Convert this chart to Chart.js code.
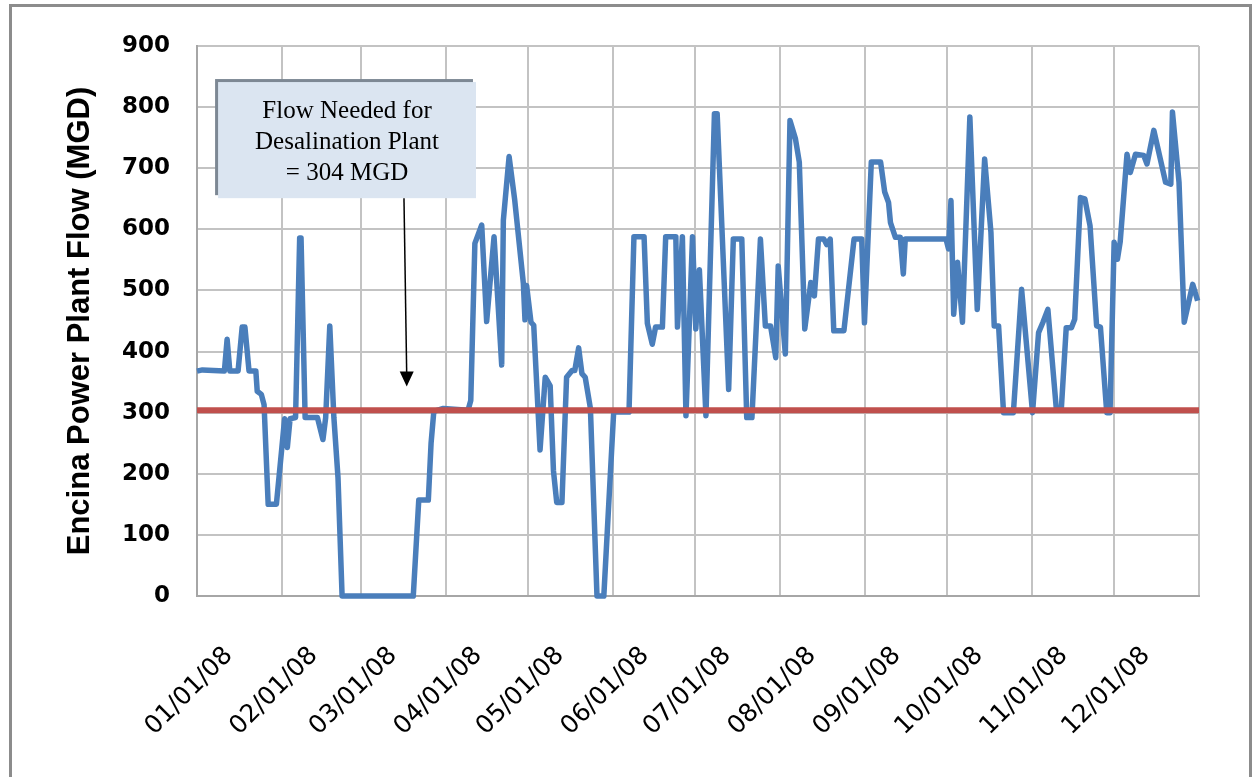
<!DOCTYPE html>
<html>
<head>
<meta charset="utf-8">
<script src="https://cdn.jsdelivr.net/npm/chart.js@4.4.1/dist/chart.umd.min.js"></script>
<style>
  html, body { margin: 0; padding: 0; background: #fff; overflow: hidden; }
  #wrap { position: relative; width: 1259px; height: 777px; }
  #frame { position: absolute; left: 9px; top: 4px; width: 1243px; height: 800px;
           border: 3px solid #8c8c8c; box-sizing: border-box; }
  canvas { position: absolute; left: 0; top: 0; }
</style>
</head>
<body>
<div id="wrap">
  <div id="frame"></div>
  <canvas id="flowChart" width="1259" height="777"></canvas>
</div>
<script>
// day of year (0 = 01/01/08) and flow in MGD
const days = [
  0, 2, 10, 11, 12, 15, 16.5, 17.5, 19, 21.5, 22, 23.5, 24.5, 26, 29, 31, 32, 33, 34, 36,
  37.5, 38, 39.5, 44, 46, 47, 48.5, 50, 51.5, 53, 79, 81, 84.5, 85.5, 86.5, 90, 99, 100,
  101.5, 104, 105.8, 108.5, 111.3, 111.9, 114, 116, 119.2, 119.8, 120.4, 122, 123, 125.3,
  127.2, 129, 130.2, 131.4, 133.3, 135, 137, 138, 139.4, 140.6, 141.8, 143.7, 146.1, 148.6,
  152.2, 157.8, 159.6, 163.3, 164.5, 166.3, 167.5, 170, 171.2, 174.9, 175.5, 177.3, 178.6,
  181, 182.2, 183.5, 185.9, 189, 190, 194.2, 195.9, 199, 200.8, 202.7, 205.8, 207.6, 209.5,
  211.4, 212.3, 214.9, 216.6, 218.6, 220, 222, 224.2, 225.5, 227, 229, 230, 231.3, 232.6,
  236.3, 240, 242.8, 243.8, 246.3, 249.7, 251.2, 252.6, 253.3, 255.1, 256.9, 258, 258.7,
  273.6, 274.5, 275.4, 276.4, 277.8, 279.6, 282.3, 285, 287.7, 290, 291.2, 292.8, 294.6,
  298.2, 301.2, 305.2, 307.4, 309, 310.8, 313.9, 315.7, 317.5, 319.4, 320.6, 322.7, 324.3,
  326.2, 328.6, 330, 332.3, 333.5, 335, 336.2, 337.2, 339.7, 340.9, 342.8, 345.8, 347,
  349.5, 353.8, 355.7, 356.3, 358.7, 360.6, 363.7, 365.5
];
const flow = [
  368, 370, 368, 420, 368, 368, 440, 440, 368, 368, 335, 330, 313, 150, 150, 243, 290, 243, 290, 292,
  586, 586, 292, 292, 256, 292, 442, 292, 194, 0, 0, 157, 157, 250, 302, 307, 304, 320,
  577, 607, 449, 588, 378, 615, 719, 650, 512, 452, 508, 448, 443, 239,
  358, 344, 205, 153, 153, 358, 369, 369, 406, 364, 358, 307, 0, 0,
  301, 301, 588, 588, 446, 412, 440, 440, 588, 588, 440, 588, 295,
  588, 437, 534, 295, 789, 789, 338, 584, 584, 292, 292, 584, 442, 442,
  390, 540, 396, 778, 748, 710, 437, 513, 491, 584, 584, 575, 584, 434,
  434, 584, 584, 447, 710, 710, 661, 644, 611, 587, 587, 527, 584,
  584, 568, 647, 461, 546, 448, 784, 469, 715, 595, 442, 442, 300,
  300, 502, 300, 431, 448, 469, 305, 305, 439, 439, 453, 652, 650,
  606, 442, 440, 300, 300, 579, 551, 579, 723, 693, 723, 721, 707,
  762, 677, 674, 792, 677, 448, 510, 483
];
const threshold = 304;
const monthStarts = [0, 31, 60, 91, 121, 152, 182, 213, 244, 274, 305, 335, 366];
const monthLabels = ['01/01/08', '02/01/08', '03/01/08', '04/01/08', '05/01/08', '06/01/08',
  '07/01/08', '08/01/08', '09/01/08', '10/01/08', '11/01/08', '12/01/08', ''];
const noteLines = ['Flow Needed for', 'Desalination Plant', '= 304 MGD'];

// callout box + arrow, placed in data units
const callout = {
  id: 'callout',
  afterDatasetsDraw(chart) {
    const { ctx, scales: { x, y } } = chart;
    const l = x.getPixelForValue(7.7), r = x.getPixelForValue(101.9);
    const t = y.getPixelForValue(841), b = y.getPixelForValue(651);
    ctx.save();
    ctx.fillStyle = '#7d8894';
    ctx.fillRect(l - 3, t - 3, r - l, b - t);
    ctx.fillStyle = '#dbe5f1';
    ctx.fillRect(l, t, r - l, b - t);
    ctx.fillStyle = '#000';
    ctx.font = '25px "Liberation Serif", serif';
    ctx.textAlign = 'center';
    ctx.textBaseline = 'middle';
    const cx = (l + r) / 2;
    noteLines.forEach((s, i) => ctx.fillText(s, cx, t + 29 + i * 31));

    // arrow
    const x0 = x.getPixelForValue(75.6), y0 = b;
    const x1 = x.getPixelForValue(76.6), y1 = y.getPixelForValue(343);
    ctx.strokeStyle = '#000';
    ctx.lineWidth = 1.5;
    ctx.beginPath();
    ctx.moveTo(x0, y0);
    ctx.lineTo(x1, y1 - 12);
    ctx.stroke();
    ctx.beginPath();
    ctx.moveTo(x1, y1);
    ctx.lineTo(x1 - 7, y1 - 15);
    ctx.lineTo(x1 + 7, y1 - 15);
    ctx.closePath();
    ctx.fill();
    ctx.restore();
  }
};

new Chart(document.getElementById('flowChart'), {
  type: 'line',
  data: {
    datasets: [{
      label: 'Flow Needed',
      data: [{ x: 0, y: threshold }, { x: 366, y: threshold }],
      borderColor: '#c0504d',
      borderWidth: 6,
      pointRadius: 0,
      clip: 6,
    }, {
      label: 'Encina Flow',
      data: days.map((d, i) => ({ x: d, y: flow[i] })),
      borderColor: '#4a7ebb',
      borderWidth: 5.5,
      pointRadius: 0,
      tension: 0,
      borderJoinStyle: 'round',
      clip: 6,
    }]
  },
  options: {
    responsive: false,
    animation: false,
    devicePixelRatio: 1,
    layout: { padding: { left: 62, top: 46, right: 60, bottom: 0 } },
    plugins: { legend: { display: false }, tooltip: { enabled: false } },
    scales: {
      x: {
        type: 'linear', min: 0, max: 366,
        afterBuildTicks: s => { s.ticks = monthStarts.map(v => ({ value: v })); },
        afterFit: s => { s.height = 181; s.paddingLeft = 0; s.paddingRight = 0; },
        grid: { color: '#c3c3c3', lineWidth: 2, drawTicks: false },
        border: { color: '#a6a6a6', width: 2 },
        ticks: {
          autoSkip: false, minRotation: 45, maxRotation: 45, labelOffset: 32, padding: 45,
          color: '#000', font: { family: '"DejaVu Sans"', size: 25 },
          callback: (v, i) => monthLabels[i]
        }
      },
      y: {
        min: 0, max: 900,
        afterFit: s => { s.width = 135; },
        grid: { color: '#c3c3c3', lineWidth: 2, drawTicks: false },
        border: { color: '#a6a6a6', width: 2 },
        ticks: {
          stepSize: 100, padding: 27, color: '#000',
          font: { family: '"DejaVu Sans"', size: 23, weight: 'bold' }
        },
        title: {
          display: true, text: 'Encina Power Plant Flow (MGD)', color: '#000', padding: 0,
          font: { family: '"Liberation Sans"', size: 31, weight: 'bold' }
        }
      }
    }
  },
  plugins: [callout]
});
</script>
</body>
</html>
